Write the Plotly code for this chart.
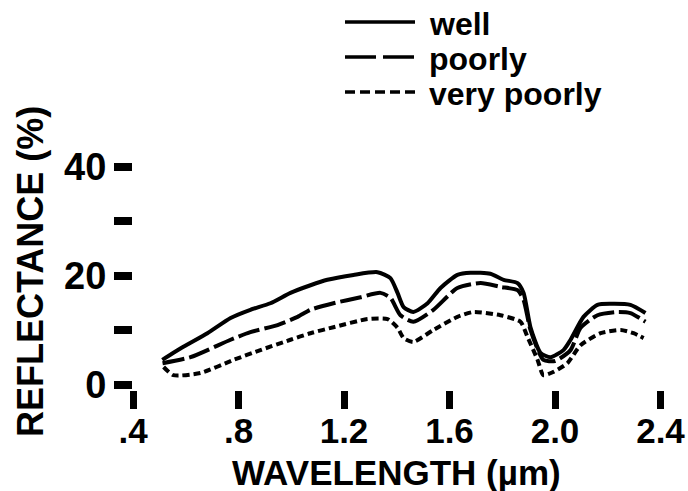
import plotly.graph_objects as go

# ---- data ----
wl_well = [0.511, 0.591, 0.682, 0.770, 0.845, 0.921, 0.997, 1.073, 1.137, 1.236, 1.327, 1.376,
           1.403, 1.426, 1.463, 1.517, 1.566, 1.630, 1.680, 1.755, 1.805, 1.858, 1.881, 1.907,
           1.945, 1.983, 2.032, 2.059, 2.108, 2.161, 2.210, 2.286, 2.343]
refl_well = [4.6, 7.0, 9.5, 12.3, 13.8, 15.0, 16.9, 18.3, 19.3, 20.2, 20.7, 19.6,
             16.9, 14.3, 13.4, 15.0, 17.8, 20.2, 20.6, 20.4, 19.3, 18.7, 16.9, 10.6,
             5.9, 5.1, 6.4, 8.3, 12.5, 14.7, 14.9, 14.7, 13.2]

wl_poorly = [0.512, 0.618, 0.770, 0.845, 0.948, 1.024, 1.073, 1.160, 1.263, 1.338, 1.376,
             1.414, 1.463, 1.539, 1.630, 1.718, 1.793, 1.858, 1.881, 1.907, 1.956, 2.000,
             2.059, 2.097, 2.161, 2.237, 2.286, 2.343]
refl_poorly = [4.0, 5.1, 8.3, 9.7, 11.0, 12.5, 13.8, 15.0, 16.1, 16.9, 16.0,
               12.8, 11.6, 13.8, 17.8, 18.7, 18.0, 17.4, 15.6, 10.1, 4.6, 4.4,
               6.4, 10.5, 12.8, 13.4, 13.2, 11.6]

wl_vpoorly = [0.516, 0.553, 0.656, 0.781, 0.883, 0.997, 1.073, 1.160, 1.289, 1.365, 1.403,
              1.426, 1.463, 1.539, 1.630, 1.691, 1.793, 1.869, 1.896, 1.934, 1.956, 1.994,
              2.047, 2.097, 2.173, 2.249, 2.298, 2.336]
refl_vpoorly = [3.3, 1.8, 2.2, 4.6, 6.4, 8.3, 9.5, 10.6, 12.1, 12.1, 10.5,
                8.6, 7.9, 10.1, 12.5, 13.4, 12.8, 11.6, 8.8, 4.6, 1.8, 2.4,
                4.0, 7.3, 9.5, 10.1, 9.5, 8.6]

x_tickvals = [0.4, 0.8, 1.2, 1.6, 2.0, 2.4]
x_ticktext = [".4", ".8", "1.2", "1.6", "2.0", "2.4"]
y_tickvals = [0, 10, 20, 30, 40]
y_ticktext = ["0", "", "20", "", "40"]

legend_names = ["well", "poorly", "very poorly"]
dashes = ["solid", "22px,5px", "7px,4px"]
legend_dashes = ["solid", "31px,7px", "10px,5px"]

x_title = "WAVELENGTH (µm)"
y_title = "REFLECTANCE (%)"

FONT = "Liberation Sans, Arial, Helvetica, sans-serif"

fig = go.Figure()
for xs, ys, name, d in zip([wl_well, wl_poorly, wl_vpoorly],
                           [refl_well, refl_poorly, refl_vpoorly],
                           legend_names, dashes):
    fig.add_trace(go.Scatter(x=xs, y=ys, mode="lines", name=name,
                             line=dict(color="black", width=4, dash=d,
                                       shape="spline", smoothing=0.6),
                             showlegend=False))

# layout geometry in pixels
L, R, B, T = 133, 15, 101, 161
W, H = 688 - L - R, 491 - T - B
def px(x):
    return (x - L) / W
def py(y):
    return (491 - B - y) / H

# manual legend (paper coords)
leg_line_y = [22, 57, 92]
leg_text_y = [24, 59, 94]
for name, d, ly, ty in zip(legend_names, legend_dashes, leg_line_y, leg_text_y):
    fig.add_shape(type="line", xref="paper", yref="paper",
                  x0=px(345), x1=px(415), y0=py(ly), y1=py(ly),
                  line=dict(color="black", width=3.5, dash=d))
    fig.add_annotation(xref="paper", yref="paper", x=px(427), y=py(ty),
                       xanchor="left", yanchor="middle", text=name, showarrow=False,
                       font=dict(family=FONT, size=32, color="black", weight="bold"))

# axis titles
fig.add_annotation(xref="paper", yref="paper", x=px(396), y=py(472),
                   xanchor="center", yanchor="middle", text=x_title, showarrow=False,
                   font=dict(family=FONT, size=35, color="black", weight="bold"))
fig.add_annotation(xref="paper", yref="paper", x=px(30), y=py(272),
                   xanchor="center", yanchor="middle", text=y_title, showarrow=False,
                   textangle=-90,
                   font=dict(family=FONT, size=36, color="black", weight="bold"))

fig.update_layout(
    width=688, height=491,
    margin=dict(l=L, r=R, t=T, b=B),
    plot_bgcolor="white", paper_bgcolor="white",
    font=dict(family=FONT, color="black", weight="bold"),
    showlegend=False,
    xaxis=dict(range=[0.4, 0.4 + W / 263.75], showgrid=False, zeroline=False, showline=False,
               automargin=False,
               tickmode="array", tickvals=x_tickvals, ticktext=x_ticktext,
               ticks="outside", ticklen=18, tickwidth=7, tickcolor="black",
               ticklabelstandoff=-8,
               tickfont=dict(family=FONT, size=35, weight="bold")),
    yaxis=dict(range=[-0.92, -0.92 + H / 5.45], showgrid=False, zeroline=False, showline=False,
               automargin=False,
               tickmode="array", tickvals=y_tickvals, ticktext=y_ticktext,
               ticks="outside", ticklen=18, tickwidth=8, tickcolor="black",
               tickfont=dict(family=FONT, size=38, weight="bold")),
)

fig.write_html("out.html")
